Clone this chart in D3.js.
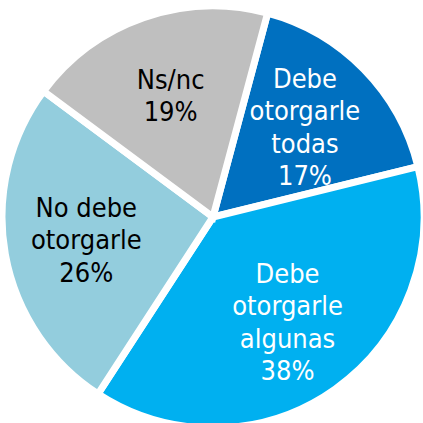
<!DOCTYPE html>
<html>
<head>
<meta charset="utf-8">
<script src="https://cdn.jsdelivr.net/npm/d3@7"></script>
<style>
  html, body { margin: 0; padding: 0; background: #fff; }
  svg { display: block; }
  text { font-family: "DejaVu Sans Condensed", "DejaVu Sans", sans-serif; font-stretch: condensed; font-size: 27px; }
</style>
</head>
<body>
<svg id="chart" width="423" height="423"></svg>
<script>
const categories = [
  ["Debe", "otorgarle", "todas"],
  ["Debe", "otorgarle", "algunas"],
  ["No debe", "otorgarle"],
  ["Ns/nc"]
];
const values = [17, 38, 26, 19];
const sliceColors = ["#0070C0", "#00B0F0", "#93CDDD", "#BFBFBF"];
const textColors = ["#ffffff", "#ffffff", "#000000", "#000000"];

const svg = d3.select("#chart");
const cx = 213, cy = 217, radius = 211;
const startAngle = 15 * Math.PI / 180;

const pie = d3.pie()
  .sort(null)
  .value(d => d)
  .startAngle(startAngle)
  .endAngle(startAngle + 2 * Math.PI);

const arcs = pie(values);

const arc = d3.arc().innerRadius(0).outerRadius(radius);
const labelArc = d3.arc().innerRadius(radius * 0.61).outerRadius(radius * 0.61);

const g = svg.append("g").attr("transform", `translate(${cx},${cy})`);

g.selectAll("path.slice")
  .data(arcs)
  .enter().append("path")
  .attr("class", "slice")
  .attr("d", arc)
  .attr("fill", (d, i) => sliceColors[i])
  .attr("stroke", "#ffffff")
  .attr("stroke-width", 7)
  .attr("stroke-linejoin", "miter");

const lineHeight = 32.3;

g.selectAll("text.label")
  .data(arcs)
  .enter().append("text")
  .attr("class", "label")
  .attr("text-anchor", "middle")
  .attr("fill", (d, i) => textColors[i])
  .each(function (d, i) {
    const [x, y] = labelArc.centroid(d);
    const lines = categories[i].concat([values[i] + "%"]);
    const top = y - (lines.length - 1) * lineHeight / 2;
    const t = d3.select(this);
    lines.forEach((line, k) => {
      t.append("tspan")
        .attr("x", x)
        .attr("y", top + k * lineHeight)
        .attr("dy", "0.35em")
        .text(line);
    });
  });
</script>
</body>
</html>
